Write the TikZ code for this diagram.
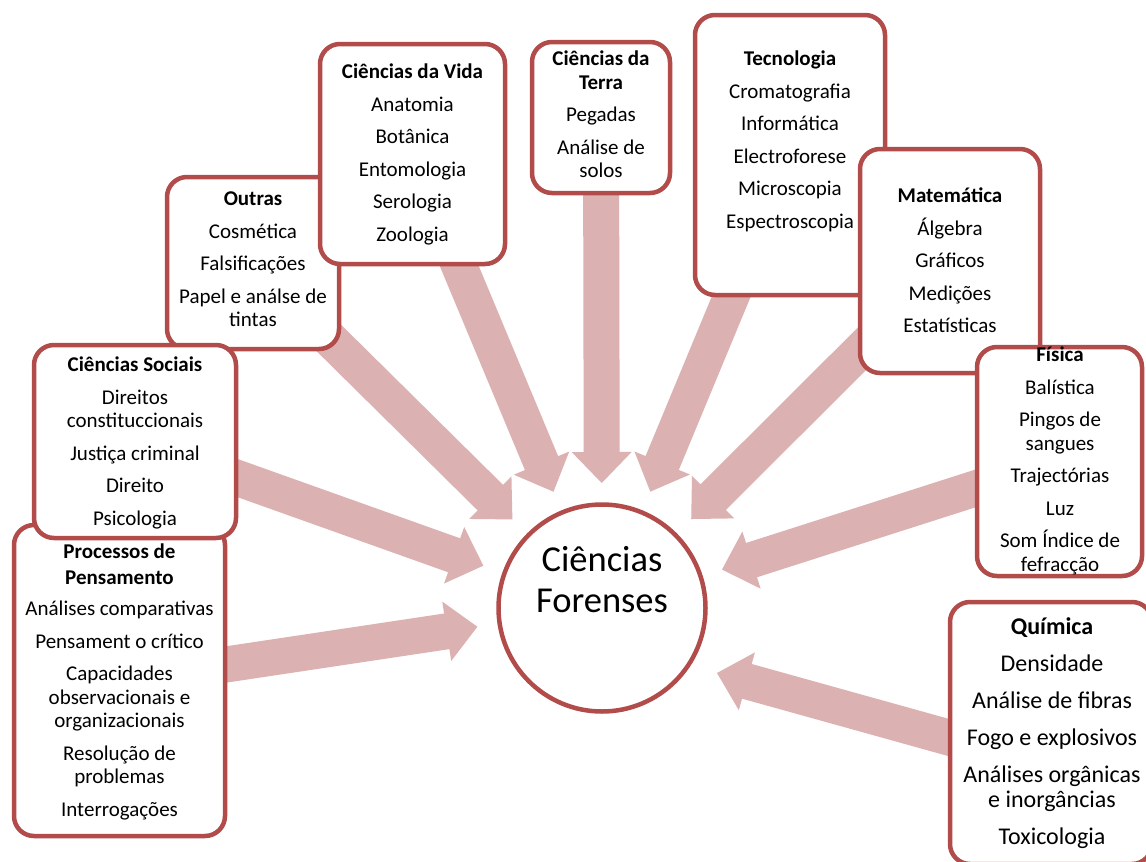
\documentclass[tikz,border=0pt]{standalone}
\usepackage{fontspec}
\setmainfont{Carlito}
\usetikzlibrary{calc}
\definecolor{bordc}{HTML}{B24C4A}
\definecolor{arrc}{HTML}{DCB1B2}
\tikzset{
  box/.style={draw=bordc, line width=4.5pt, fill=white, rounded corners=20pt,
    rectangle, inner sep=0pt, outer sep=0pt, anchor=north west},
  txt/.style={align=center, anchor=north, inner sep=0pt, font=\fontsize{21}{23.5}\selectfont},
  bigtxt/.style={align=center, anchor=north, inner sep=0pt, font=\fontsize{24}{25.5}\selectfont},
  blockarrow/.style={fill=arrc, draw=none, to path={
    ($(\tikztostart)!18pt!90:(\tikztotarget)$) --
    ($(\tikztotarget)!31pt!(\tikztostart)!18pt!90:(\tikztotarget)$) --
    ($(\tikztotarget)!31pt!(\tikztostart)!30pt!90:(\tikztotarget)$) --
    (\tikztotarget) --
    ($(\tikztotarget)!31pt!(\tikztostart)!30pt!-90:(\tikztotarget)$) --
    ($(\tikztotarget)!31pt!(\tikztostart)!18pt!-90:(\tikztotarget)$) --
    ($(\tikztostart)!18pt!-90:(\tikztotarget)$) -- cycle}}
}
\begin{document}
\begin{tikzpicture}[x=1pt,y=-1pt]
\useasboundingbox (0,0) rectangle (1146,862);
\fill[white] (0,0) rectangle (1146,862);

% invisible geometry first: circle position, box positions
\coordinate (fcc) at (602,608);
\path (167,177) node[box, draw=none, fill=none, minimum width=172pt, minimum height=172pt] (outras) {};
\path (14,525) node[box, draw=none, fill=none, minimum width=211pt, minimum height=311pt] (procs) {};
\path (34,345) node[box, draw=none, fill=none, minimum width=202pt, minimum height=193pt] (socs) {};
\path (320,44) node[box, draw=none, fill=none, minimum width=185pt, minimum height=220pt] (vida) {};
\path (532,42) node[box, draw=none, fill=none, minimum width=138pt, minimum height=151pt] (terra) {};
\path (695,15) node[box, draw=none, fill=none, minimum width=190pt, minimum height=280pt] (tec) {};
\path (860,149) node[box, draw=none, fill=none, minimum width=180pt, minimum height=224pt] (mat) {};
\path (977,347) node[box, draw=none, fill=none, minimum width=165pt, minimum height=229pt] (fis) {};
\path (950,602) node[box, draw=none, fill=none, minimum width=202pt, minimum height=262pt] (quim) {};

% arrow tips
\coordinate (poutras) at ($(fcc)!126pt!(outras.center)$);
\coordinate (pprocs) at ($(fcc)!126pt!(procs.center)$);
\coordinate (psocs) at ($(fcc)!126pt!(socs.center)$);
\coordinate (pvida) at ($(fcc)!126pt!(vida.center)$);
\coordinate (pterra) at ($(fcc)!125pt!(terra.center)$);
\coordinate (ptec) at ($(fcc)!126pt!(tec.center)$);
\coordinate (pmat) at ($(fcc)!126pt!(mat.center)$);
\coordinate (pfis) at ($(fcc)!126pt!(fis.center)$);
\coordinate (pquim) at (717,673);
\coordinate (qtail) at (1051,766);

% arrows
\path[blockarrow] (outras.center) to (poutras);
\path[blockarrow] (procs.center) to (pprocs);
\path[blockarrow] (socs.center) to (psocs);
\path[blockarrow] (vida.center) to (pvida);
\path[blockarrow] (terra.center) to (pterra);
\path[blockarrow] (tec.center) to (ptec);
\path[blockarrow] (mat.center) to (pmat);
\path[blockarrow] (fis.center) to (pfis);
\path[blockarrow] (qtail) to (pquim);

% boxes and texts
\path (167,177) node[box, minimum width=172pt, minimum height=172pt] (outrasb) {};
\node[txt] (outrast) at (253,192) {\textbf{Outras}\\[9pt]Cosmética\\[9pt]Falsificações\\[9pt]Papel e análse de\\tintas};

\path (14,525) node[box, minimum width=211pt, minimum height=311pt] (procsb) {};
\node[txt] (procst) at (119.5,544) {\textbf{Processos de}\\[2.5pt]\textbf{Pensamento}\\[7.5pt]Análises comparativas\\[9pt]Pensament o crítico\\[9pt]Capacidades\\observacionais e\\organizacionais\\[9pt]Resolução de\\problemas\\[9pt]Interrogações};

\path (34,345) node[box, minimum width=202pt, minimum height=193pt] (socsb) {};
\node[txt] (socst) at (135,357) {\textbf{Ciências Sociais}\\[9pt]Direitos\\constituccionais\\[9pt]Justiça criminal\\[9pt]Direito\\[9pt]Psicologia};

\path (320,44) node[box, minimum width=185pt, minimum height=220pt] (vidab) {};
\node[txt] (vidat) at (412.5,64) {\textbf{Ciências da Vida}\\[9pt]Anatomia\\[9pt]Botânica\\[9pt]Entomologia\\[9pt]Serologia\\[9pt]Zoologia};

\path (532,42) node[box, minimum width=138pt, minimum height=151pt] (terrab) {};
\node[txt] (terrat) at (601,51) {\textbf{Ciências da}\\\textbf{Terra}\\[9pt]Pegadas\\[9pt]Análise de\\solos};

\path (695,15) node[box, minimum width=190pt, minimum height=280pt] (tecb) {};
\node[txt] (tect) at (790,51) {\textbf{Tecnologia}\\[9pt]Cromatografia\\[9pt]Informática\\[9pt]Electroforese\\[9pt]Microscopia\\[9pt]Espectroscopia};

\path (860,149) node[box, minimum width=180pt, minimum height=224pt] (matb) {};
\node[txt] (matt) at (950,188) {\textbf{Matemática}\\[9pt]Álgebra\\[9pt]Gráficos\\[9pt]Medições\\[9pt]Estatísticas};

\path (977,347) node[box, minimum width=165pt, minimum height=229pt] (fisb) {};
\node[txt] (fist) at (1060,347) {\textbf{Física}\\[9pt]Balística\\[9pt]Pingos de\\sangues\\[9pt]Trajectórias\\[9pt]Luz\\[9pt]Som Índice de\\fefracção};

\path (950,602) node[box, minimum width=202pt, minimum height=262pt] (quimb) {};
\node[bigtxt] (quimt) at (1052,617) {\textbf{Química}\\[11.5pt]Densidade\\[11.5pt]Análise de fibras\\[11.5pt]Fogo e explosivos\\[11.5pt]Análises orgânicas\\e inorgâncias\\[11.5pt]Toxicologia};

% centre circle
\node[circle, draw=bordc, line width=4.5pt, fill=white, minimum size=207pt, inner sep=0pt] (fc) at (fcc) {};
\node[align=center, anchor=north, inner sep=0pt, font=\fontsize{36.5}{41}\selectfont] (fct) at (602,546) {Ciências\\Forenses};
\end{tikzpicture}
\end{document}
